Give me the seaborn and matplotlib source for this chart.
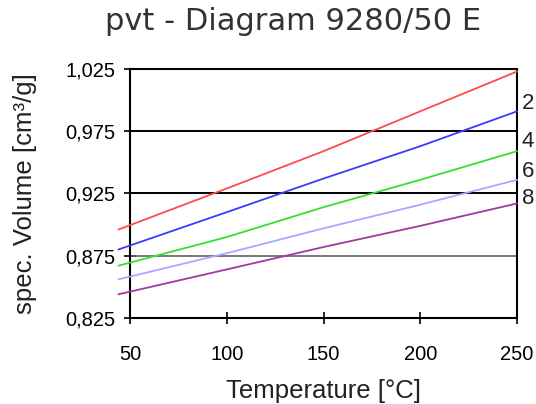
import pandas as pd
import matplotlib
matplotlib.use('Agg')
import matplotlib.pyplot as plt
import matplotlib.ticker as mticker
import seaborn as sns

# temperatures and spec. volume per pressure curve
temps = [44, 100, 150, 200, 250]
v_200 = [0.896, 0.929, 0.959, 0.991, 1.023]
v_400 = [0.880, 0.910, 0.937, 0.963, 0.991]
v_600 = [0.867, 0.890, 0.914, 0.936, 0.959]
v_800 = [0.856, 0.877, 0.897, 0.916, 0.936]
v_1000 = [0.844, 0.864, 0.882, 0.899, 0.917]
curve_names = ['2', '4', '6', '8', '10']
label_y = [0.997, 0.967, 0.943, 0.921]
colors = ['#ff4a4a', '#3a3aff', '#33e033', '#a8a8ff', '#a03aa0']

rows = []
for name, vals in zip(curve_names, [v_200, v_400, v_600, v_800, v_1000]):
    for t, v in zip(temps, vals):
        rows.append({'T': t, 'V': v, 'curve': name})
df = pd.DataFrame(rows)

sns.set_theme(style='white')
plt.rcParams['font.family'] = ['Liberation Sans', 'DejaVu Sans']

fig = plt.figure(figsize=(5.36, 4.04), dpi=100)
ax = fig.add_axes([0.2425, 0.2129, 0.7221, 0.6163])

for y, c, lw in [(0.875, '#606060', 1.2), (0.925, 'black', 1.4), (0.975, 'black', 1.4)]:
    ax.axhline(y, color=c, lw=lw, zorder=1)

sns.lineplot(data=df, x='T', y='V', hue='curve', palette=colors, lw=1.3,
             legend=False, ax=ax, zorder=3)
for ln in ax.get_lines()[3:]:
    ln.set_clip_on(False)

ax.set_xlim(50, 250)
ax.set_ylim(0.825, 1.025)
ax.set_xticks([50, 100, 150, 200, 250])
ax.set_yticks([0.825, 0.875, 0.925, 0.975, 1.025])
ax.yaxis.set_major_formatter(mticker.FuncFormatter(lambda v, p: f'{v:.3f}'.replace('.', ',')))
ax.tick_params(axis='both', direction='inout', length=9, width=1.2, colors='black',
               labelsize=14.5, left=True, bottom=True)
ax.tick_params(axis='x', pad=15)
ax.tick_params(axis='y', pad=6)
for s in ax.spines.values():
    s.set_color('black')
    s.set_linewidth(1.5)

ax.set_xlabel('Temperature [°C]', fontsize=18.5, color='#222222', labelpad=11)
ax.set_ylabel('spec. Volume [cm³/g]', fontsize=18.5, color='#222222', labelpad=20)

for name, y in zip(curve_names[:4], label_y):
    ax.text(1.012, (y - 0.825) / 0.2, name, transform=ax.transAxes, fontsize=16,
            va='center', ha='left', color='#222222')

fig.text(0.547, 0.948, 'pvt - Diagram 9280/50 E', fontsize=22, ha='center', va='center',
         color='#333333', family=['DejaVu Sans'])

fig.savefig('out.png', dpi=100, facecolor='white')
